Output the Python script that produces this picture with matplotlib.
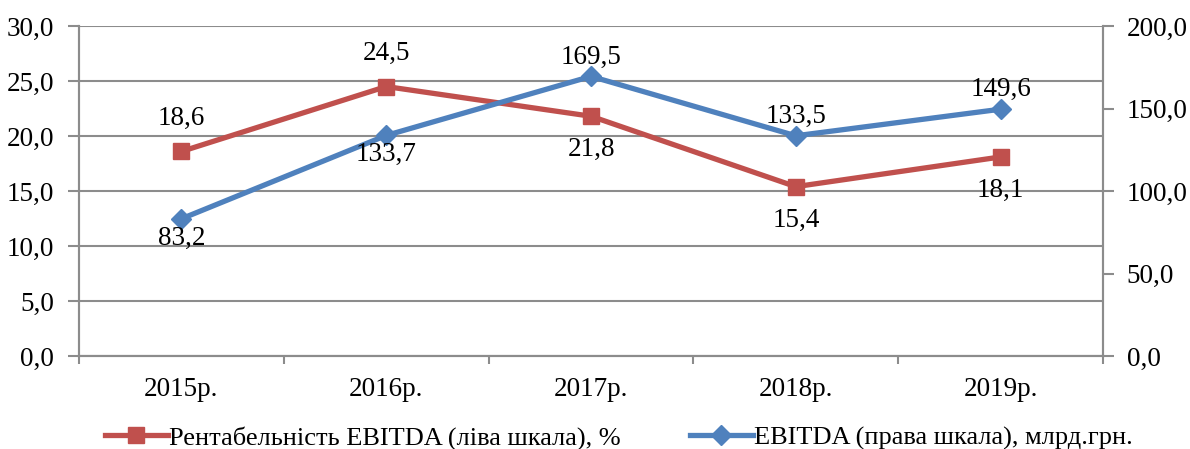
import numpy as np
import matplotlib.pyplot as plt
from matplotlib.ticker import FuncFormatter, MultipleLocator, FixedLocator

plt.rcParams['font.family'] = ['Liberation Serif', 'DejaVu Serif']

years = ["2015р.", "2016р.", "2017р.", "2018р.", "2019р."]
margin = [18.6, 24.5, 21.8, 15.4, 18.1]      # рентабельність EBITDA, %
ebitda = [83.2, 133.7, 169.5, 133.5, 149.6]  # EBITDA, млрд.грн.

# where each value label goes: 1 above the point, -1 below
margin_pos = [1, 1, -1, -1, -1]
ebitda_pos = [-1, -1, 1, 1, 1]

red = "#C0504D"
blue = "#4F81BD"
grey = "#8C8C8C"
fs = 19.5

def comma(v, pos=None):
    return f"{v:.1f}".replace(".", ",")

fig = plt.figure(figsize=(11.9, 4.49), dpi=100)
ax = fig.add_axes([0.0664, 0.207, 0.8605, 0.735])
ax2 = ax.twinx()

x = np.arange(len(years))
l1, = ax.plot(x, margin, color=red, lw=3.8, marker="s", ms=12,
              label="Рентабельність EBITDA (ліва шкала), %", zorder=3)
l2, = ax2.plot(x, ebitda, color=blue, lw=3.8, marker="D", ms=10,
               label="EBITDA (права шкала), млрд.грн.", zorder=3)

for xi, v, p in zip(x, margin, margin_pos):
    ax.annotate(comma(v), (xi, v), xytext=(0, 24 * p), textcoords="offset points",
                ha="center", va="center", fontsize=fs)
for xi, v, p in zip(x, ebitda, ebitda_pos):
    ax2.annotate(comma(v), (xi, v), xytext=(0, 14 * p), textcoords="offset points",
                 ha="center", va="center", fontsize=fs)

ax.set_xlim(-0.5, len(years) - 0.5)
ax.set_ylim(0, 30)
ax2.set_ylim(0, 200)
ax.yaxis.set_major_locator(MultipleLocator(5))
ax2.yaxis.set_major_locator(MultipleLocator(50))
ax.yaxis.set_major_formatter(FuncFormatter(comma))
ax2.yaxis.set_major_formatter(FuncFormatter(comma))

ax.set_xticks(x)
ax.set_xticklabels(years)
ax.xaxis.set_minor_locator(FixedLocator(np.arange(-0.5, len(years), 1)))
ax.tick_params(axis="x", which="major", length=0, pad=15, labelsize=fs)
ax.tick_params(axis="x", which="minor", length=6, width=1.5, color=grey)
ax.tick_params(axis="y", length=8, width=1.5, color=grey, pad=10, labelsize=fs)
ax2.tick_params(axis="y", length=8, width=1.5, color=grey, pad=9, labelsize=fs)

ax.grid(axis="y", color=grey, lw=1.5)
ax.set_axisbelow(True)
for a in (ax, ax2):
    a.spines["top"].set_visible(False)
    for s in ("left", "right", "bottom"):
        a.spines[s].set_color(grey)
        a.spines[s].set_linewidth(1.5)

fig.legend(handles=[l1, l2], loc="lower center", bbox_to_anchor=(0.52, -0.055),
           ncol=2, frameon=False, fontsize=19, handlelength=2.4,
           handletextpad=0.05, columnspacing=2.6)

fig.savefig("out.png", dpi=100)
